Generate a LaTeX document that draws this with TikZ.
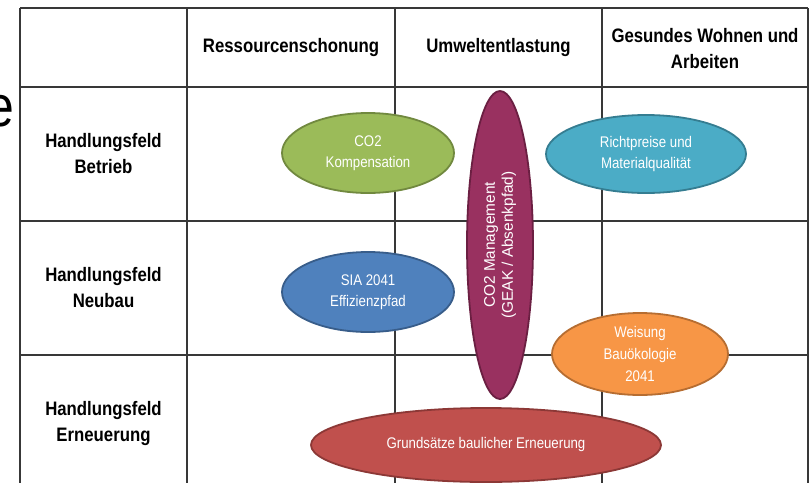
\documentclass[tikz,border=0pt]{standalone}
\usepackage{fontspec}
\setmainfont{Liberation Sans}
\newfontfamily\narrowfont[FakeStretch=0.86]{Liberation Sans}
\usetikzlibrary{shapes.geometric}

\definecolor{gruen}{HTML}{9BBB59}
\definecolor{gruenrand}{HTML}{71893F}
\definecolor{tuerkis}{HTML}{4BACC6}
\definecolor{tuerkisrand}{HTML}{357D91}
\definecolor{blau}{HTML}{4F81BD}
\definecolor{blaurand}{HTML}{385D8A}
\definecolor{orange}{HTML}{F79646}
\definecolor{orangerand}{HTML}{B66D31}
\definecolor{rot}{HTML}{C0504D}
\definecolor{rotrand}{HTML}{8C3836}
\definecolor{lila}{HTML}{993160}
\definecolor{lilarand}{HTML}{6B1F42}

\tikzset{
	gitter/.style={line width=1.4pt, draw=black!78},
	kopf/.style={align=center, font=\narrowfont\bfseries\fontsize{19.5}{26}\selectfont},
	feld/.style={ellipse, draw, line width=1.8pt, inner sep=0pt, align=center, text=white,
		font=\narrowfont\fontsize{15.4}{21}\selectfont},
}

\begin{document}
\begin{tikzpicture}[x=1pt, y=-1pt]
		\clip (0,0) rectangle (812,483);
		\fill[white] (0,0) rectangle (812,483);
		
		% Rest vom Titel links
		\node[font=\narrowfont\fontsize{58}{58}\selectfont, anchor=base east, inner sep=0pt] (rest) at (14,126) {e};
		
		% Tabelle
		\foreach \y in {8,87,221,355}
			\draw[gitter] (20,\y) -- (808,\y);
		\foreach \x in {20,187,395,602,808}
			\draw[gitter] (\x,8) -- (\x,483);
		
		\node[kopf] (ressourcen) at (291,47.5) {Ressourcenschonung};
		\node[kopf] (umwelt) at (498.5,47.5) {Umweltentlastung};
		\node[kopf] (wohnen) at (705,49) {Gesundes Wohnen und\\Arbeiten};
		
		\node[kopf] (betrieb) at (103.5,154) {Handlungsfeld\\Betrieb};
		\node[kopf] (neubau) at (103.5,288) {Handlungsfeld\\Neubau};
		\node[kopf] (erneuerung) at (103.5,423) {Handlungsfeld\\Erneuerung};
		
		% Massnahmen
		\node[feld, fill=gruen, draw=gruenrand, minimum width=172pt, minimum height=80pt] (kompensation) at (368,153) {CO2\\Kompensation};
		\node[feld, fill=tuerkis, draw=tuerkisrand, minimum width=200pt, minimum height=78pt] (richtpreise) at (646,154) {Richtpreise und\\Materialqualität};
		\node[feld, fill=blau, draw=blaurand, minimum width=172pt, minimum height=80pt] (sia) at (368,292) {SIA 2041\\Effizienzpfad};
		\node[feld, fill=orange, draw=orangerand, minimum width=176pt, minimum height=82pt, font=\narrowfont\fontsize{15.4}{22}\selectfont] (weisung) at (640,354) {Weisung\\Bauökologie\\2041};
		\node[feld, fill=rot, draw=rotrand, minimum width=350pt, minimum height=74pt] (grundsaetze) at (486,445) {Grundsätze baulicher Erneuerung};
		\node[feld, fill=lila, draw=lilarand, rotate=90, minimum width=308pt, minimum height=66pt, font=\fontsize{15.4}{18}\selectfont] (management) at (500,245) {CO2 Management\\(GEAK / Absenkpfad)};
		
	\end{tikzpicture}
\end{document}
